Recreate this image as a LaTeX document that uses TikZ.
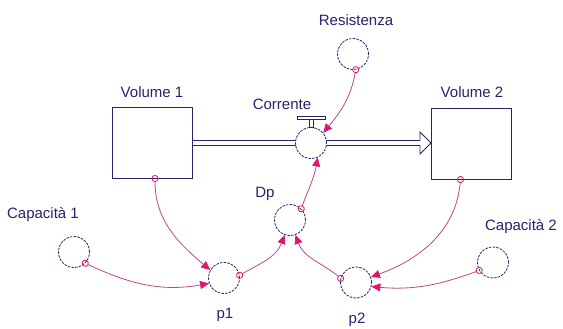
\documentclass[tikz,border=0pt]{standalone}
\usepackage{fontspec}
\setmainfont{Liberation Sans}
\usetikzlibrary{arrows.meta}
\definecolor{ink}{RGB}{36,36,110}
\definecolor{linkcol}{RGB}{190,70,140}
\definecolor{tipcol}{RGB}{225,20,110}
\tikzset{
  stock/.style={draw=ink, line width=1pt, minimum width=80pt, minimum height=70pt, inner sep=0pt},
  aux/.style={circle, draw=ink, dash pattern=on 2.5pt off 1.2pt, line width=0.8pt, minimum size=31pt, inner sep=0pt, fill=white},
  lbl/.style={text=ink, font=\fontsize{15}{17}\selectfont, inner sep=0pt},
  link/.style={draw=linkcol, line width=0.8pt, shorten <=-3.5pt,
    {Circle[open,length=7pt,width=7pt,color=tipcol]}-{Triangle[length=9pt,width=8pt,color=tipcol]}},
  pipe/.style={draw=ink, line width=0.9pt},
  flow/.style={draw=ink, line width=0.9pt, double=white, double distance=4pt}
}
\begin{document}
\begin{tikzpicture}[x=1pt,y=-1pt]
\useasboundingbox[fill=white] (0,0) rectangle (563,329);

% Livelli
\node[stock] (vol1) at (152,143) {};
\node[stock] (vol2) at (471.5,144) {};
\node[lbl] (vol1lbl) at (152,92) {Volume 1};
\node[lbl] (vol2lbl) at (472,92.5) {Volume 2};

% Flusso con valvola
\draw[flow] (vol1.east) -- (296,143);
\draw[flow] (326,143) -- (420,143);
\draw[pipe] (420,140.5) -- (420,132) -- (431,143) -- (420,154) -- (420,145.5);
\node[aux] (valve) at (311,143) {};
\draw[pipe, fill=white] (297,116) rectangle (325,119);
\draw[pipe, fill=white] (309,119) rectangle (313,127.5);
\node[lbl] (valvelbl) at (282,104) {Corrente};

% Variabili ausiliarie
\node[aux] (res) at (353,54) {};
\node[lbl] (reslbl) at (356,20) {Resistenza};
\node[aux] (cap1) at (74,252) {};
\node[lbl] (cap1lbl) at (43,215) {Capacità 1};
\node[aux] (cap2) at (493,262.5) {};
\node[lbl] (cap2lbl) at (521,227) {Capacità 2};
\node[aux] (p1) at (224,278) {};
\node[lbl] (p1lbl) at (225,315) {p1};
\node[aux] (p2) at (356,282.5) {};
\node[lbl] (p2lbl) at (357,320) {p2};
\node[aux] (dp) at (290,220) {};
\node[lbl] (dplbl) at (265,194) {Dp};

% Collegamenti
\draw[link] (res.-80) to[out=-100,in=50] (valve.40);
\draw[link] (dp.45) to[out=70,in=-100] (valve.-65);
\draw[link] ([xshift=3pt]vol1.south) to[out=-90,in=140] (p1.150);
\draw[link] (cap1.-45) to[out=-25,in=190] (p1.200);
\draw[link] (p1.10) to[out=30,in=-110] (dp.-110);
\draw[link] (p2.165) to[out=140,in=-70] (dp.-70);
\draw[link] ([xshift=-11pt]vol2.south) to[out=-95,in=20] (p2.20);
\draw[link] (cap2.-150) to[out=-160,in=-5] (p2.-15);
\end{tikzpicture}
\end{document}
